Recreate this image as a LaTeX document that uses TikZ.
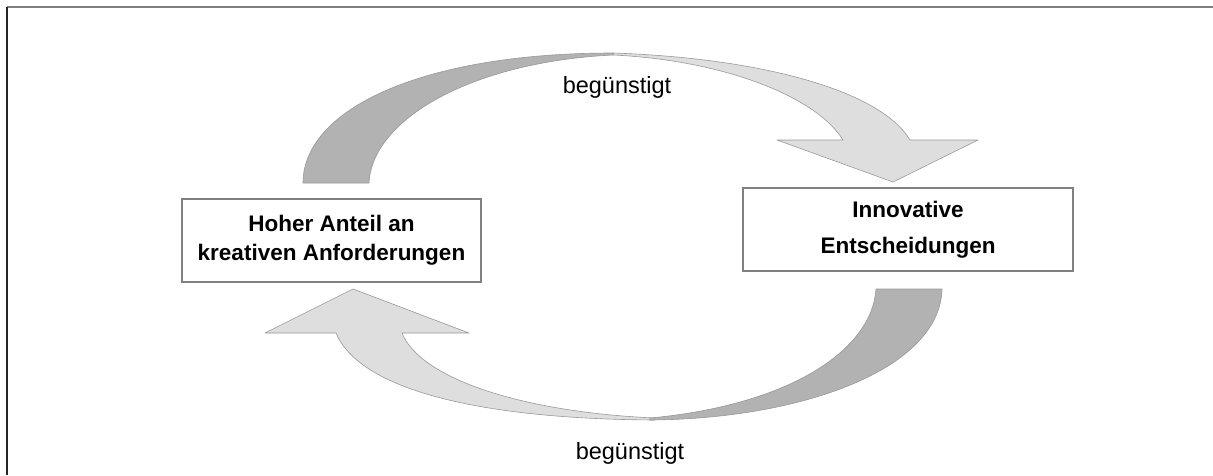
\documentclass[tikz,border=0pt]{standalone}
\usepackage{fontspec}
\setmainfont{Liberation Sans}
\usepackage{tikz}
\usepackage{color}

\definecolor{rahmen}{gray}{0.50}
\definecolor{dunkel}{gray}{0.70}
\definecolor{hell}{gray}{0.87}
\definecolor{kante}{gray}{0.60}

\begin{document}
\begin{tikzpicture}[x=1pt,y=-1pt,
  kasten/.style={draw=rahmen, line width=1.1pt, align=center, minimum height=83pt,
    font=\fontsize{22.5}{29}\selectfont\bfseries},
  wort/.style={anchor=base, font=\fontsize{23.5}{28}\selectfont},
  vorne/.style={fill=hell, draw=kante, line width=0.6pt, line join=round},
  hinten/.style={fill=dunkel, draw=kante, line width=0.6pt, line join=round}]
\useasboundingbox (0,0) rectangle (1213,475);
\draw[rahmen, line width=1.7pt] (7,7) -- (1213,7);
\draw[black!85, line width=1.5pt] (7,7) -- (7,475);

% oberer Pfeil
\draw[vorne] (613,53) .. controls (760,58) and (880,90) .. (910,140) -- (978,140)
  -- (893,182) -- (777,140) -- (843,140) .. controls (815,95) and (720,60) .. (613,55) -- cycle;
\draw[hinten] (303,183) .. controls (303,110) and (420,53) .. (613,53)
  -- (613,55) .. controls (470,62) and (372,120) .. (369,183) -- cycle;

% unterer Pfeil
\draw[vorne] (353,289) -- (469,333) -- (402,333) .. controls (420,378) and (520,412) .. (655,418)
  -- (655,420) .. controls (480,419) and (360,390) .. (336,333) -- (265,333) -- cycle;
\draw[hinten] (876,289) -- (942,289) .. controls (940,370) and (800,419) .. (650,420)
  -- (650,418) .. controls (790,405) and (872,350) .. (876,289) -- cycle;

\node[kasten, minimum width=299pt] (anteil) at (331.5,240.5) {Hoher Anteil an\\kreativen Anforderungen};
\node[kasten, minimum width=330pt, font=\fontsize{22.5}{36}\selectfont\bfseries] (innov) at (908,229.5) {Innovative\\Entscheidungen};

\node[wort] (oben) at (617,93) {begünstigt};
\node[wort] (unten) at (630,459) {begünstigt};
\end{tikzpicture}
\end{document}
